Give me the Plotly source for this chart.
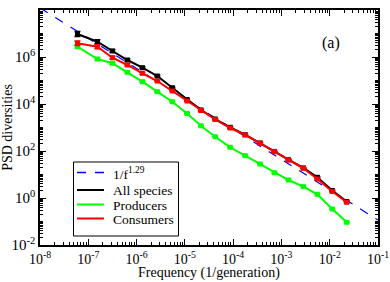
import plotly.graph_objects as go

freq = [5.96e-8, 1.545e-7, 3.16e-7, 6.45e-7, 1.32e-6, 2.69e-6, 5.50e-6, 1.11e-5,
        2.15e-5, 4.25e-5, 8.69e-5, 1.77e-4, 3.62e-4, 7.16e-4, 1.40e-3, 2.85e-3,
        5.55e-3, 1.13e-2, 2.25e-2]

all_species = [9.5e6, 4.48e6, 1.80e6, 7.45e5, 3.51e5, 1.55e5, 4.94e4, 1.55e4,
               5.6e3, 2.3e3, 1.02e3, 495, 220, 96, 42.5, 19.0, 7.6, 2.1, 0.71]
producers = [2.74e6, 8.22e5, 5.40e5, 2.23e5, 8.89e4, 3.34e4, 1.25e4, 3.94e3,
             1.19e3, 406, 144, 63.1, 28.0, 11.9, 5.83, 3.03, 1.44, 0.34, 0.092]
consumers = [3.83e6, 2.74e6, 9.33e5, 4.57e5, 2.02e5, 9.52e4, 3.57e4, 1.34e4,
             5.29e3, 2.19e3, 953, 480, 213, 93.3, 41.4, 18.4, 6.44, 1.89, 0.656]

# relative error half-widths
all_rel = [0.28, 0.22, 0.15, 0.12, 0.1, 0.08, 0.07, 0.06, 0.06, 0.05, 0.05, 0.05,
           0.05, 0.05, 0.05, 0.05, 0.05, 0.05, 0.05]
prod_rel = [0.15, 0.12, 0.1, 0.08, 0.07, 0.06, 0.05, 0.05, 0.05, 0.05, 0.05, 0.05,
            0.05, 0.05, 0.05, 0.05, 0.05, 0.05, 0.05]
cons_rel = [0.25, 0.22, 0.15, 0.12, 0.1, 0.08, 0.07, 0.06, 0.06, 0.05, 0.05, 0.05,
            0.05, 0.05, 0.05, 0.05, 0.05, 0.05, 0.05]

fit_amp = 0.0059
fit_exp = 1.29
fit_f = [1e-8, 1e-1]

x_exps = [-8, -7, -6, -5, -4, -3, -2, -1]
y_exps = [-2, 0, 2, 4, 6, 8]

legend_names = ["1/f<sup>1.29</sup>", "All species", "Producers", "Consumers"]
legend_colors = ["#0000ff", "#000000", "#00ff00", "#ff0000"]
legend_dashes = ["dash", "solid", "solid", "solid"]

x_title = "Frequency (1/generation)"
y_title = "PSD diversities"

FONT = "Liberation Serif"

# plot area in pixels (for legend placement)
PL, PR, PT, PB = 40, 378, 10, 245


def px_x(v):
    return (v - PL) / (PR - PL)


def px_y(v):
    return (PB - v) / (PB - PT)


fig = go.Figure()
fig.add_trace(go.Scatter(
    x=fit_f, y=[fit_amp * f ** (-fit_exp) for f in fit_f], mode="lines",
    line=dict(color="#0000ff", width=1.2, dash="dash"),
    name=legend_names[0]))


def series(vals, rel, color, name):
    return go.Scatter(
        x=freq, y=vals, mode="lines+markers", name=name,
        line=dict(color=color, width=2),
        marker=dict(symbol="square", size=5, color=color),
        error_y=dict(type="data", array=[v * r for v, r in zip(vals, rel)],
                     arrayminus=[v * r * 0.8 for v, r in zip(vals, rel)],
                     color=color, thickness=1.5, width=3))


fig.add_trace(series(all_species, all_rel, "#000000", legend_names[1]))
fig.add_trace(series(producers, prod_rel, "#00ff00", legend_names[2]))
fig.add_trace(series(consumers, cons_rel, "#ff0000", legend_names[3]))


def minor_vals(lo, hi, decade_too=False):
    vals = []
    for e in range(lo, hi):
        if decade_too and e % 2 == 1:
            vals.append(10.0 ** e)
        for m in range(2, 10):
            vals.append(m * 10.0 ** e)
    return vals


axis_common = dict(
    type="log", showgrid=False, zeroline=False, showline=True,
    linecolor="black", linewidth=1.5, mirror="ticks", ticks="inside",
    ticklen=6, tickwidth=1, tickcolor="black", tickmode="array",
    automargin=False,
)

# manual legend (box, line samples, labels)
shapes = [dict(type="rect", xref="paper", yref="paper",
               x0=px_x(73.5), x1=px_x(178.5), y0=px_y(236), y1=px_y(162),
               line=dict(color="black", width=1), fillcolor="white", layer="above")]
annotations = []
rows = [172.5, 190, 204.5, 218.5]
for name, color, dash, ry in zip(legend_names, legend_colors, legend_dashes, rows):
    shapes.append(dict(type="line", xref="paper", yref="paper",
                       x0=px_x(77), x1=px_x(104), y0=px_y(ry), y1=px_y(ry),
                       line=dict(color=color, width=2 if dash == "solid" else 1.5,
                                 dash=dash), layer="above"))
    annotations.append(dict(text=name, x=px_x(111), y=px_y(ry + 0.5),
                            xref="paper", yref="paper", xanchor="left",
                            yanchor="middle", showarrow=False,
                            font=dict(family=FONT, size=13.5, color="black")))

annotations.append(dict(text="(a)", x=px_x(342), y=px_y(32),
                        xref="paper", yref="paper", showarrow=False,
                        font=dict(family=FONT, size=16, color="black")))
annotations.append(dict(text=x_title, x=px_x(209), y=px_y(273),
                        xref="paper", yref="paper", showarrow=False,
                        xanchor="center", yanchor="middle",
                        font=dict(family=FONT, size=14, color="black")))

fig.update_layout(
    width=390, height=282,
    margin=dict(l=PL, r=390 - PR, t=PT, b=282 - PB),
    paper_bgcolor="white", plot_bgcolor="white",
    font=dict(family=FONT, color="black"),
    showlegend=False,
    xaxis=dict(axis_common, range=[-8.0001, -0.9999],
               tickvals=[10.0 ** e for e in x_exps],
               ticktext=["10<sup>%d</sup>" % e for e in x_exps],
               tickfont=dict(family=FONT, size=14, color="black"),
               minor=dict(tickmode="array", tickvals=minor_vals(-8, -1),
                          ticks="inside", ticklen=3, tickcolor="black",
                          showgrid=False)),
    yaxis=dict(axis_common, range=[-2.0001, 8.0001],
               tickvals=[10.0 ** e for e in y_exps],
               ticktext=["10<sup>%d</sup>" % e for e in y_exps],
               tickfont=dict(family=FONT, size=15, color="black"),
               minor=dict(tickmode="array", tickvals=minor_vals(-2, 8, True),
                          ticks="inside", ticklen=3, tickcolor="black",
                          showgrid=False),
               title=dict(text=y_title,
                          font=dict(family=FONT, size=14))),
    shapes=shapes,
    annotations=annotations,
)

fig.write_html("out.html",
               config={"displayModeBar": False},
               post_script="document.body.style.margin='0';"
                           "document.body.style.overflow='hidden';")
